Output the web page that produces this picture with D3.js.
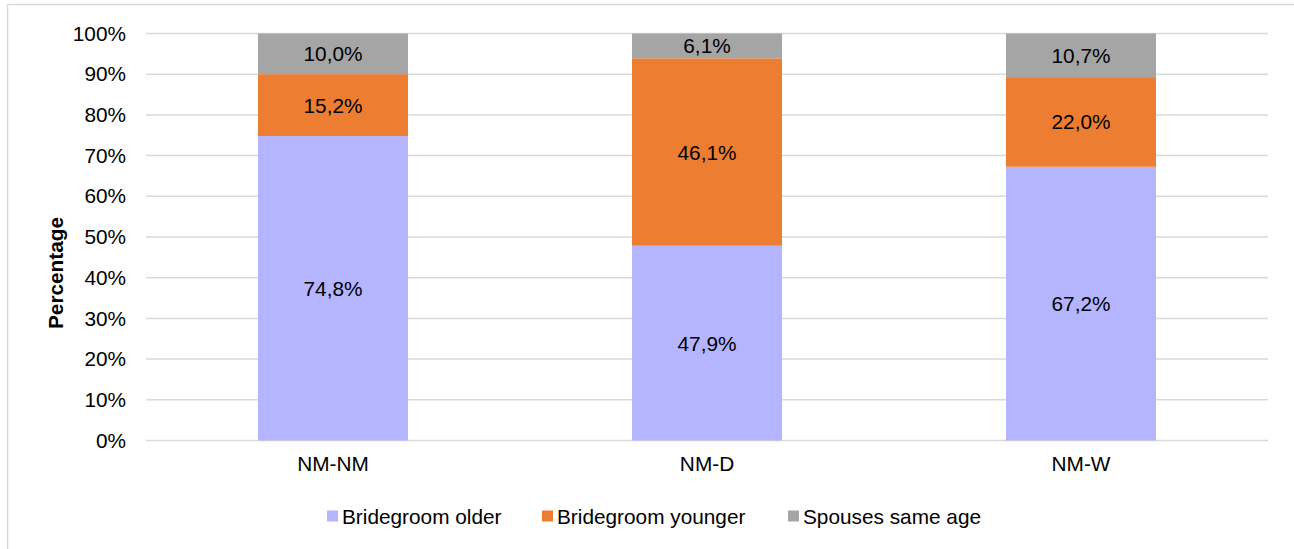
<!DOCTYPE html>
<html>
<head>
<meta charset="utf-8">
<script src="https://cdn.jsdelivr.net/npm/d3@7"></script>
<style>
  html, body { margin: 0; padding: 0; background: #fff; }
  svg { display: block; font-family: "Liberation Sans", Arial, sans-serif; }
</style>
</head>
<body>
<svg id="chart" width="1294" height="549"></svg>
<script>
const categories = ["NM-NM", "NM-D", "NM-W"];
const seriesNames = ["Bridegroom older", "Bridegroom younger", "Spouses same age"];
const bridegroomOlder = [74.8, 47.9, 67.2];
const bridegroomYounger = [15.2, 46.1, 22.0];
const spousesSameAge = [10.0, 6.1, 10.7];
const yTicks = [0, 0.1, 0.2, 0.3, 0.4, 0.5, 0.6, 0.7, 0.8, 0.9, 1.0];
const colors = ["#B4B4FF", "#ED7D31", "#A5A5A5"];

const seriesValues = [bridegroomOlder, bridegroomYounger, spousesSameAge];
const rows = categories.map((c, i) => {
  const r = { category: c };
  seriesNames.forEach((s, j) => { r[s] = seriesValues[j][i]; });
  return r;
});

const svg = d3.select("#chart");
const fontSize = 20.8;

// outer border
svg.append("rect")
  .attr("x", 7.5).attr("y", 4.5)
  .attr("width", 1400).attr("height", 700)
  .attr("fill", "#fff").attr("stroke", "#D9D9D9").attr("stroke-width", 1.5);

const plot = { left: 146, right: 1268, top: 33.5, bottom: 440.5 };

const x = d3.scaleBand()
  .domain(categories)
  .range([plot.left, plot.right])
  .paddingInner(0.599)
  .paddingOuter(0.2995);

const y = d3.scaleLinear().domain([0, 1]).range([plot.bottom, plot.top]);

// gridlines
svg.append("g").selectAll("line")
  .data(yTicks)
  .join("line")
  .attr("x1", plot.left).attr("x2", plot.right)
  .attr("y1", d => y(d)).attr("y2", d => y(d))
  .attr("stroke", "#D9D9D9").attr("stroke-width", 1.5);

// y axis labels
const yAxis = d3.axisLeft(y).tickValues(yTicks)
  .tickFormat(d => Math.round(d * 100) + "%")
  .tickSize(0).tickPadding(20);
const yg = svg.append("g").attr("transform", `translate(${plot.left},0)`).call(yAxis);
yg.select(".domain").remove();
yg.selectAll("text").attr("font-size", fontSize).attr("fill", "#000")
  .attr("font-family", "Liberation Sans, Arial, sans-serif");

// x axis labels
const xAxis = d3.axisBottom(x).tickSize(0).tickPadding(16);
const xg = svg.append("g").attr("transform", `translate(0,${plot.bottom})`).call(xAxis);
xg.select(".domain").remove();
xg.selectAll("text").attr("font-size", fontSize).attr("fill", "#000")
  .attr("font-family", "Liberation Sans, Arial, sans-serif");

// stacked bars
const stack = d3.stack().keys(seriesNames).offset(d3.stackOffsetExpand);
const stacked = stack(rows);

const layers = svg.append("g").selectAll("g")
  .data(stacked)
  .join("g")
  .attr("fill", (d, i) => colors[i]);

layers.selectAll("rect")
  .data(d => d)
  .join("rect")
  .attr("x", d => x(d.data.category))
  .attr("width", x.bandwidth())
  .attr("y", d => y(d[1]))
  .attr("height", d => y(d[0]) - y(d[1]));

// data labels
const fmt = v => v.toFixed(1).replace(".", ",") + "%";
layers.selectAll("text")
  .data((d) => d.map(p => ({ p, key: d.key })))
  .join("text")
  .attr("x", d => x(d.p.data.category) + x.bandwidth() / 2)
  .attr("y", d => (y(d.p[0]) + y(d.p[1])) / 2)
  .attr("text-anchor", "middle")
  .attr("dominant-baseline", "central")
  .attr("font-size", fontSize)
  .attr("fill", "#000")
  .text(d => fmt(d.p.data[d.key]));

// y axis title
svg.append("text")
  .attr("transform", `translate(55,273) rotate(-90)`)
  .attr("text-anchor", "middle")
  .attr("dominant-baseline", "central")
  .attr("font-size", fontSize)
  .attr("font-weight", "bold")
  .text("Percentage");

// legend
const legendX = [327, 542, 788];
const legendY = 516;
const lg = svg.append("g").selectAll("g")
  .data(seriesNames)
  .join("g")
  .attr("transform", (d, i) => `translate(${legendX[i]},${legendY})`);
lg.append("rect")
  .attr("x", 0).attr("y", -5.5)
  .attr("width", 11).attr("height", 11)
  .attr("fill", (d, i) => colors[i]);
lg.append("text")
  .attr("x", 15).attr("y", 0)
  .attr("dominant-baseline", "central")
  .attr("font-size", fontSize)
  .attr("fill", "#000")
  .text(d => d);
</script>
</body>
</html>
